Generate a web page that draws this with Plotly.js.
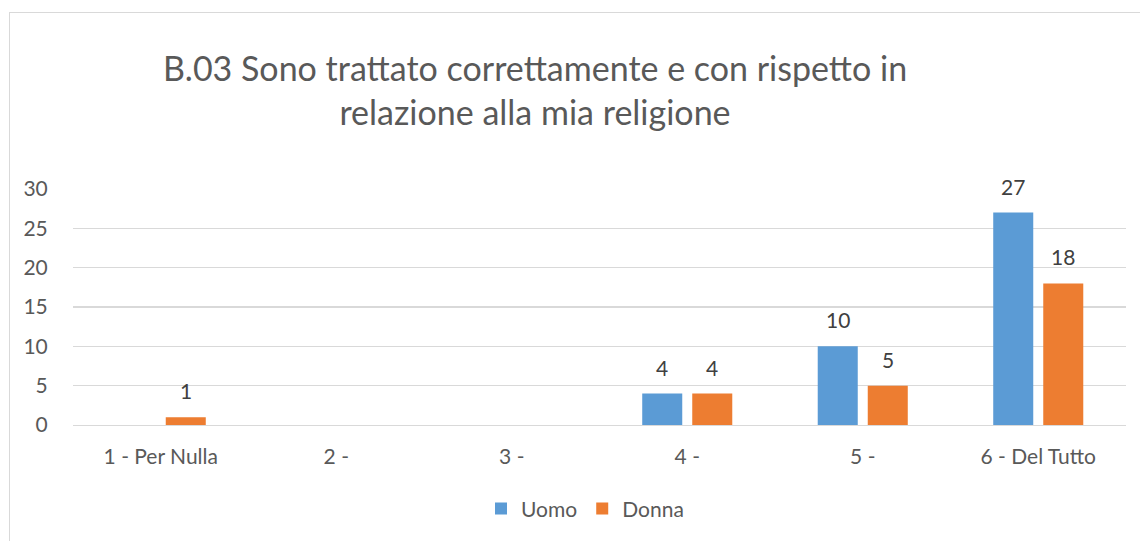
<!DOCTYPE html>
<html>
<head>
<meta charset="utf-8">
<script src="https://cdn.plot.ly/plotly-3.0.1.min.js"></script>
<style>
  html, body { margin: 0; padding: 0; background: #fff; }
  #frame { position: absolute; left: 9px; top: 12px; width: 1140px; height: 540px; border: 1px solid #d9d9d9; }
  #chart { position: absolute; left: 0; top: 0; width: 1140px; height: 541px; }
</style>
</head>
<body>
<div id="frame"></div>
<div id="chart"></div>
<script>
// categories and counts per gender
var categories = ['1 - Per Nulla', '2 -', '3 -', '4 -', '5 -', '6 - Del Tutto'];
var uomo = [0, 0, 0, 4, 10, 27];
var donna = [1, 0, 0, 4, 5, 18];

var fontFam = 'Lato, "Open Sans", sans-serif';

var data = [{
  type: 'bar',
  name: 'Uomo',
  x: categories,
  y: uomo,
  marker: { color: '#5B9BD5' },
  hoverinfo: 'none'
}, {
  type: 'bar',
  name: 'Donna',
  x: categories,
  y: donna,
  marker: { color: '#ED7D31' },
  hoverinfo: 'none'
}];

// value labels above the bars (zeros are not labelled)
var annotations = [];
[[uomo, -25], [donna, 25]].forEach(function (s) {
  s[0].forEach(function (v, i) {
    if (!v) return;
    annotations.push({
      x: categories[i], y: v, xref: 'x', yref: 'y',
      text: String(v), showarrow: false,
      xshift: s[1], yshift: 12, yanchor: 'bottom',
      font: { family: fontFam, size: 21, color: '#404040' }
    });
  });
});

var layout = {
  width: 1140,
  height: 541,
  margin: { l: 73, r: 14, t: 189, b: 114 },
  paper_bgcolor: 'rgba(0,0,0,0)',
  plot_bgcolor: 'rgba(0,0,0,0)',
  font: { family: fontFam, color: '#595959', size: 21 },
  title: {
    text: 'B.03 Sono trattato correttamente e con rispetto in<br>relazione alla mia religione',
    font: { size: 34, color: '#595959' },
    x: 535 / 1140,
    xanchor: 'center',
    y: 1 - 81 / 541,
    yanchor: 'middle'
  },
  barmode: 'group',
  bargap: 0.43,
  bargroupgap: 0.2,
  annotations: annotations,
  xaxis: {
    type: 'category',
    showgrid: false,
    showline: true,
    linecolor: '#d9d9d9',
    linewidth: 1.3,
    ticks: 'outside',
    ticklen: 12,
    tickcolor: 'rgba(0,0,0,0)',
    tickfont: { size: 21, color: '#595959' }
  },
  yaxis: {
    range: [0, 30],
    dtick: 5,
    showgrid: true,
    gridcolor: '#d9d9d9',
    gridwidth: 1.3,
    zeroline: false,
    showline: false,
    ticks: 'outside',
    ticklen: 20,
    tickcolor: 'rgba(0,0,0,0)',
    tickfont: { size: 21, color: '#595959' }
  },
  showlegend: true,
  legend: {
    orientation: 'h',
    x: (481 - 73) / 1053,
    xanchor: 'left',
    y: (427.3 - 512) / 238.3,
    yanchor: 'middle',
    font: { size: 21, color: '#595959' },
    itemwidth: 30
  }
};

Plotly.newPlot('chart', data, layout, { staticPlot: true });
</script>
</body>
</html>
